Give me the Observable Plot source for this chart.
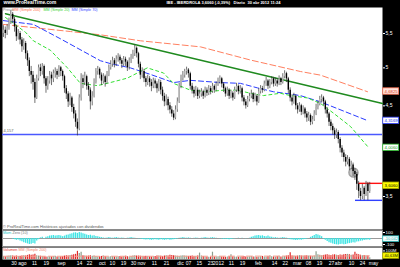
<!DOCTYPE html>
<html><head><meta charset="utf-8">
<script src="https://cdn.jsdelivr.net/npm/d3@7"></script>
<script src="https://cdn.jsdelivr.net/npm/@observablehq/plot@0.6"></script>
<style>
html,body{margin:0;padding:0;background:#000;width:400px;height:267px;overflow:hidden}
#chart svg{display:block}
</style></head><body><div id="chart"></div>
<script>
// ---- data ----
const openP = [
5.50,5.55,5.50,5.58,5.68,5.80,5.72,5.60,5.45,5.50,
5.40,5.30,5.35,5.20,5.10,4.95,4.90,4.80,4.60,4.85,
5.00,4.95,5.02,4.85,4.75,4.82,4.90,4.85,4.92,4.95,
4.90,5.00,4.95,4.88,4.72,4.65,4.55,4.60,4.48,4.40,
4.30,4.22,4.60,4.85,4.80,4.88,4.75,4.70,4.55,4.62,
4.80,4.95,4.98,4.90,4.82,4.88,4.80,4.90,5.00,5.05,
5.10,5.05,5.12,5.15,5.10,5.05,5.12,5.08,5.00,5.10,
5.15,5.20,5.28,5.20,5.05,4.90,4.95,4.85,4.80,4.85,
4.80,4.75,4.82,4.78,4.72,4.80,4.70,4.62,4.55,4.58,
4.50,4.45,4.40,4.35,4.45,4.55,4.75,4.85,4.90,4.95,
4.97,4.92,4.75,4.70,4.65,4.70,4.62,4.65,4.68,4.62,
4.70,4.66,4.72,4.68,4.75,4.70,4.78,4.82,4.85,4.78,
4.72,4.65,4.70,4.62,4.66,4.60,4.70,4.75,4.68,4.72,
4.60,4.55,4.50,4.58,4.62,4.65,4.58,4.62,4.55,4.68,
4.72,4.70,4.78,4.82,4.75,4.80,4.85,4.78,4.82,4.78,
4.85,4.80,4.88,4.92,4.85,4.70,4.60,4.55,4.62,4.50,
4.45,4.50,4.42,4.46,4.40,4.35,4.38,4.30,4.33,4.40,
4.48,4.52,4.58,4.60,4.55,4.45,4.40,4.30,4.25,4.20,
4.15,4.18,4.10,4.00,3.95,3.90,3.85,3.88,3.80,3.82,
3.75,3.72,3.62,3.55,3.50,3.58,3.52,3.62,3.55];
const highP = [
5.62,5.60,5.64,5.74,5.86,5.83,5.75,5.63,5.56,5.53,
5.44,5.42,5.38,5.24,5.14,5.02,4.95,4.85,4.90,5.04,
5.05,5.06,5.04,4.88,4.88,4.95,4.94,4.97,5.00,4.98,
5.03,5.02,4.97,4.90,4.76,4.68,4.66,4.62,4.52,4.44,
4.34,4.64,4.92,4.90,4.94,4.90,4.80,4.73,4.68,4.85,
4.99,5.02,5.00,4.93,4.92,4.90,4.95,5.04,5.10,5.15,
5.13,5.17,5.20,5.18,5.13,5.16,5.15,5.10,5.14,5.19,
5.25,5.33,5.30,5.22,5.08,5.00,4.98,4.88,4.90,4.88,
4.84,4.86,4.85,4.81,4.84,4.83,4.74,4.66,4.64,4.61,
4.54,4.49,4.44,4.50,4.60,4.79,4.90,4.95,4.98,5.01,
4.99,4.94,4.79,4.74,4.75,4.73,4.70,4.72,4.70,4.74,
4.73,4.76,4.75,4.79,4.77,4.81,4.86,4.89,4.87,4.80,
4.74,4.74,4.72,4.70,4.68,4.74,4.79,4.77,4.76,4.74,
4.63,4.58,4.62,4.66,4.70,4.67,4.66,4.64,4.72,4.76,
4.75,4.82,4.87,4.84,4.84,4.88,4.87,4.86,4.85,4.89,
4.87,4.92,4.96,4.94,4.87,4.73,4.64,4.66,4.64,4.53,
4.54,4.52,4.50,4.48,4.43,4.42,4.40,4.37,4.44,4.52,
4.56,4.62,4.64,4.62,4.57,4.48,4.42,4.33,4.28,4.23,
4.22,4.20,4.12,4.03,3.98,3.93,3.92,3.90,3.86,3.84,
3.78,3.74,3.65,3.58,3.62,3.60,3.65,3.64,3.64];
const lowP = [
5.44,5.42,5.47,5.55,5.64,5.66,5.52,5.38,5.40,5.33,
5.22,5.25,5.12,5.02,4.88,4.78,4.70,4.53,4.58,4.82,
4.88,4.90,4.78,4.66,4.70,4.78,4.76,4.80,4.86,4.84,
4.87,4.88,4.82,4.66,4.58,4.48,4.50,4.42,4.34,4.24,
4.14,4.20,4.56,4.72,4.76,4.70,4.62,4.45,4.50,4.60,
4.78,4.90,4.85,4.76,4.78,4.74,4.78,4.88,4.97,5.01,
5.00,5.02,5.08,5.05,4.99,5.02,5.02,4.95,4.97,5.06,
5.12,5.16,5.14,5.00,4.84,4.86,4.80,4.74,4.76,4.74,
4.68,4.72,4.72,4.66,4.68,4.64,4.56,4.49,4.50,4.44,
4.40,4.36,4.32,4.33,4.42,4.53,4.72,4.82,4.86,4.90,
4.86,4.70,4.65,4.60,4.62,4.58,4.59,4.61,4.58,4.60,
4.62,4.63,4.64,4.66,4.66,4.68,4.75,4.78,4.73,4.67,
4.61,4.62,4.58,4.59,4.56,4.58,4.67,4.64,4.65,4.55,
4.50,4.46,4.48,4.55,4.59,4.54,4.55,4.50,4.53,4.65,
4.66,4.68,4.75,4.71,4.72,4.77,4.74,4.75,4.74,4.76,
4.76,4.78,4.85,4.80,4.65,4.55,4.50,4.52,4.45,4.40,
4.42,4.38,4.39,4.35,4.30,4.31,4.26,4.27,4.31,4.38,
4.45,4.50,4.54,4.50,4.40,4.35,4.25,4.20,4.15,4.10,
4.11,4.05,3.95,3.90,3.85,3.80,3.82,3.76,3.77,3.70,
3.66,3.56,3.48,3.46,3.47,3.46,3.50,3.46,3.53];
const closeP = [
5.55,5.50,5.58,5.68,5.80,5.72,5.60,5.45,5.50,5.40,
5.30,5.35,5.20,5.10,4.95,4.90,4.80,4.60,4.85,5.00,
4.95,5.02,4.85,4.75,4.82,4.90,4.85,4.92,4.95,4.90,
5.00,4.95,4.88,4.72,4.65,4.55,4.60,4.48,4.40,4.30,
4.22,4.60,4.85,4.80,4.88,4.75,4.70,4.55,4.62,4.80,
4.95,4.98,4.90,4.82,4.88,4.80,4.90,5.00,5.05,5.10,
5.05,5.12,5.15,5.10,5.05,5.12,5.08,5.00,5.10,5.15,
5.20,5.28,5.20,5.05,4.90,4.95,4.85,4.80,4.85,4.80,
4.75,4.82,4.78,4.72,4.80,4.70,4.62,4.55,4.58,4.50,
4.45,4.40,4.35,4.45,4.55,4.75,4.85,4.90,4.95,4.97,
4.92,4.75,4.70,4.65,4.70,4.62,4.65,4.68,4.62,4.70,
4.66,4.72,4.68,4.75,4.70,4.78,4.82,4.85,4.78,4.72,
4.65,4.70,4.62,4.66,4.60,4.70,4.75,4.68,4.72,4.60,
4.55,4.50,4.58,4.62,4.65,4.58,4.62,4.55,4.68,4.72,
4.70,4.78,4.82,4.75,4.80,4.85,4.78,4.82,4.78,4.85,
4.80,4.88,4.92,4.85,4.70,4.60,4.55,4.62,4.50,4.45,
4.50,4.42,4.46,4.40,4.35,4.38,4.30,4.33,4.40,4.48,
4.52,4.58,4.60,4.55,4.45,4.40,4.30,4.25,4.20,4.15,
4.18,4.10,4.00,3.95,3.90,3.85,3.88,3.80,3.82,3.75,
3.72,3.62,3.55,3.50,3.58,3.52,3.62,3.55,3.606];
const volumeM = [
35,32,38,40,45,42,36,40,35,38,42,45,40,48,55,50,52,60,45,40,38,
35,32,30,28,33,30,35,38,30,28,32,35,40,45,42,48,50,55,60,
95,70,85,45,40,38,
40,45,38,42,35,30,32,36,40,34,30,28,32,35,30,28,33,36,30,34,38,32,30,35,40,
45,42,40,38,36,34,38,35,32,30,33,36,40,42,38,35,40,45,42,50,48,45,40,38,35,42,45,40,38,36,
38,40,35,36,42,75,40,36,30,28,
25,30,85,30,28,32,35,30,28,25,30,35,55,32,30,28,25,30,32,35,
30,28,32,35,30,28,25,30,33,36,30,28,35,40,32,30,28,35,38,30,32,36,40,45,80,42,38,35,40,45,
40,38,42,45,40,38,36,40,90,55,50,45,48,52,55,50,48,52,55,50,48,52,50,55,58,60,55,50,52,85,60,55,50,45,48,42,40,20];
const momentum = [
0,0,0,0,0, -10,-20,-30,-25,-40,
-55,-70,-80,-90,-100,-95,-85,-90,
-40,-20,10,20,-10,
20,30,40,45,50,40,45,50,40,30,
40,55,60,70,80,90,95,85,
100,90,80,70,60,50,55,40,
45,35,30,20,15,
10,5,10,15,10,5,10,15,10,5,10,5,0,5,10,15,10,5,0,-5,-10,-15,
-20,-25,-20,-25,-30,-25,-20,-25,-30,-20,-25,-30,-25,-20,-30,-25,-20,-15,-10,
5,10,15,10,5,10,5,0,5,10,5,0,
5,10,15,10,5,10,15,10,5,0,
-5,-10,-15,-10,-15,-20,-15,-10,-5,0,
5,0,5,0,-5,0,5,
20,30,40,45,50,40,45,35,30,40,25,20,
10,15,10,5,10,15,10,5,
-10,-20,-25,-30,-35,-30,-25,-30,-20,-15,-10,
0,20,35,50,
65,60,45,30,
-10,-30,-50,
-70,-80,-90,-100,-105,-110,-100,-95,-105,-100,-90,
-85,-80,-70,-75,-60,-55,
-45,-40,-35,-30,-25,-30];

// moving averages (sparse points)
const ma200Idx = [0, 36.2, 52.4, 74, 106.5, 133.5, 160.5, 171.4, 196.8];
const ma200Val = [5.64, 5.53, 5.48, 5.39, 5.30, 5.11, 4.95, 4.90, 4.68];
const ma70Idx = [0, 16.2, 30.8, 52.4, 57.8, 68.6, 79.5, 91.9, 101.1, 117.3, 128.1, 137.3, 145.9, 155.1, 160.5, 171.4, 196.8];
const ma70Val = [5.70, 5.64, 5.42, 5.10, 5.06, 5.00, 4.91, 4.80, 4.83, 4.80, 4.79, 4.73, 4.68, 4.65, 4.63, 4.55, 4.32];
const ma20Idx = [1.1, 11.9, 16.2, 25.4, 34.6, 41.6, 50.8, 56.2, 67.0, 77.8, 86.5, 91.9, 101.1, 110.3, 118.9, 126.5, 133.5, 140.5, 149.7, 155.1, 164.3, 171.4, 178.4, 187.6, 197.3];
const ma20Val = [5.75, 5.52, 5.39, 5.25, 5.00, 4.79, 4.76, 4.79, 4.86, 5.00, 4.93, 4.79, 4.70, 4.68, 4.70, 4.70, 4.66, 4.63, 4.66, 4.63, 4.60, 4.53, 4.41, 4.25, 4.01];
const volMaIdx = [0, 100, 198];
const volMaVal = [38, 38, 42];

// drawn lines
const trendIdx = [1.1, 204.9];
const trendVal = [5.81, 4.53];
const supportLevel = 4.157;
const shortLineStart = [191.9, 190.3];
const shortLineEnd = [204.9, 204.9];
const shortLineVal = [3.63, 3.463];
const shortLineColor = ["#ff1010", "#3040ff"];
const markerIdx = 189.2, markerVal = 3.74;

// axis ticks & labels
const priceTicks = [3.5, 4.5, 5, 5.5];
const momTicks = [100, -100];
const volTicks = [100];
const tickIdx = [5.7, 10.3, 16.8, 23.2, 31.4, 41.1, 46.5, 53.5, 58.9, 64.9, 70.3, 74.6, 81.6, 88.1, 95.7, 100.0, 105.9, 111.9, 116.2, 123.2, 129.2, 137.8, 146.5, 152.4, 158.9, 164.9, 170.8, 177.3, 181.1, 188.1, 194.1, 200.0];
const tickLabels = ["30","ago","11","19","sep","14","22","oct","10","19","30","nov","11","21","dic","07","15","23","2012","11","19","feb","14","22","mar","08","19","27","abr","10","24","may"];

// value boxes in the right column
const priceBoxes = [
  {v: 4.6825, label: "4,6825", fill: "#ffe4dc", stroke: "#ff7050", tc: "#e04020"},
  {v: 4.3169, label: "4,3169", fill: "#ffffff", stroke: "#3040ff", tc: "#2030ee"},
  {v: 4.0060, label: "4,0060", fill: "#ffffff", stroke: "#30c030", tc: "#20a020"},
  {v: 3.6060, label: "3,6060", fill: "#ffff00", stroke: "#b0b000", tc: "#000000"}
];
const momBox = {v: -10.042, label: "-10,042"};
const volBox = {v: 40.63, label: "40,63M"};

// ---- build ----
const FONT = "Liberation Sans, Arial, sans-serif";
const xDom = [-0.5, 204.9];
const common = {width: 400, marginLeft: 2, marginRight: 18,
  style: {background: "#000", color: "#fff", fontFamily: FONT}};
const candles = closeP.map((c, i) => ({i, o: openP[i], h: highP[i], l: lowP[i], c, v: volumeM[i], m: momentum[i]}));
const pts = (xs, ys) => xs.map((x, k) => ({x, y: ys[k]}));
const shortLines = shortLineStart.map((s, k) => ({x1: s, x2: shortLineEnd[k], y: shortLineVal[k], color: shortLineColor[k]}));
const BX1 = 205.3, BX2 = 213.9, BXC = 209.6;
const pxLog = 3.2 / 360.6;

const hdr = (t, dx, opts = {}) => Plot.text([t], {text: d => d, frameAnchor: "top-left", dx, dy: -6.5, fill: "#fff", fontSize: 4, fontWeight: "bold", ...opts});
const lbl = (t, dx, dy, fill, fontSize = 3.7) => Plot.text([t], {text: d => d, frameAnchor: "top-left", dx, dy, fill, fontSize});

const price = Plot.plot({
  ...common, height: 229, marginTop: 7, marginBottom: 0,
  x: {domain: xDom, axis: null},
  y: {type: "log", domain: [3.194, 5.911]},
  marks: [
    Plot.frame({fill: "white", stroke: null}),
    Plot.axisY({anchor: "right", ticks: priceTicks, tickFormat: d => String(d).replace(".", ","), tickSize: 2, tickPadding: 1, fontSize: 5, fill: "#fff", stroke: "#fff"}),
    Plot.ruleY([supportLevel], {stroke: "#4a58ff", strokeWidth: 1.5}),
    Plot.text([supportLevel], {y: d => d, text: d => String(d).replace(".", ","), frameAnchor: "left", dx: 1, dy: -3.5, textAnchor: "start", fill: "#666", fontSize: 4}),
    Plot.line(pts(ma200Idx, ma200Val), {x: "x", y: "y", stroke: "#ff8060", strokeWidth: 1, strokeDasharray: "6,3"}),
    Plot.line(pts(ma70Idx, ma70Val), {x: "x", y: "y", stroke: "#2a3cff", strokeWidth: 1, strokeDasharray: "5,3"}),
    Plot.line(pts(ma20Idx, ma20Val), {x: "x", y: "y", stroke: "#33e033", strokeWidth: 1, strokeDasharray: "3,3"}),
    Plot.line(pts(trendIdx, trendVal), {x: "x", y: "y", stroke: "#1f8a1f", strokeWidth: 1.4}),
    Plot.ruleY(shortLines, {x1: "x1", x2: "x2", y: "y", stroke: "color", strokeWidth: 1.4}),
    Plot.dot([{x: markerIdx, y: markerVal}], {x: "x", y: "y", r: 4.5, fill: "#bdbdbd", fillOpacity: 0.85, stroke: "#a0a0a0"}),
    Plot.ruleX(candles, {x: "i", y1: "l", y2: "h", stroke: "#333", strokeWidth: 0.7}),
    Plot.ruleX(candles.filter(d => d.c >= d.o), {x: "i", y1: "o", y2: "c", stroke: "#b4b4b4", strokeWidth: 1.4}),
    Plot.ruleX(candles.filter(d => d.c < d.o), {x: "i", y1: "o", y2: "c", stroke: "#000", strokeWidth: 1.4}),
    Plot.rect(priceBoxes, {x1: BX1, x2: BX2, y1: d => d.v * Math.exp(-pxLog), y2: d => d.v * Math.exp(pxLog), fill: "fill", stroke: "stroke", strokeWidth: 0.8}),
    Plot.text(priceBoxes, {x: BXC, y: "v", text: "label", fill: "tc", fontSize: 4.3}),
    // header
    hdr("www.ProRealTime.com", 1, {fontSize: 4.8}),
    hdr("IBE - IBERDROLA", 164),
    hdr("3,6060 (-0,39%)", 199),
    hdr("Diario", 231),
    hdr("30 abr 2012 11:24", 245),
    // legend
    lbl("Precio", 0.5, 1, "#888"),
    lbl("MM (Simple 200)", 10, 1, "#ff7050"),
    lbl("MM (Simple 20)", 41, 1, "#33d033"),
    lbl("MM (Simple 70)", 69, 1, "#3040ff"),
    Plot.text(["© ProRealTime.com Históricos ajustados con dividendos"], {text: d => d, frameAnchor: "bottom-left", dx: 0.5, dy: -2, fill: "#555", fontSize: 4})
  ]
});

const mom = Plot.plot({
  ...common, height: 18, marginTop: 0, marginBottom: 0,
  x: {domain: xDom, axis: null},
  y: {domain: [-150, 150]},
  marks: [
    Plot.frame({fill: "white", stroke: null}),
    Plot.axisY({anchor: "right", ticks: momTicks, tickFormat: d => String(d), tickSize: 2, tickPadding: 1, fontSize: 4.4, fill: "#fff", stroke: "#fff"}),
    Plot.ruleY([0], {stroke: "#9a9a9a", strokeWidth: 1}),
    Plot.ruleX(candles, {x: "i", y1: 0, y2: "m", stroke: "#3de4e4", strokeWidth: 1.3}),
    Plot.ruleY([150, -150], {stroke: "#8a8a8a", strokeWidth: 3}),
    lbl("Mom.", 0.5, 1.5, "#20c8c8"),
    lbl("Zero (10)", 10, 1.5, "#777"),
    Plot.rect([momBox], {x1: BX1, x2: BX2, y1: d => d.v - 45, y2: d => d.v + 45, fill: "#fff", stroke: "#30d0d0", strokeWidth: 0.8}),
    Plot.text([momBox], {x: BXC, y: "v", text: "label", fill: "#20b0b0", fontSize: 4})
  ]
});

const vol = Plot.plot({
  ...common, height: 20, marginTop: 0, marginBottom: 8,
  x: {domain: xDom},
  y: {domain: [0, 140]},
  marks: [
    Plot.frame({fill: "white", stroke: null}),
    Plot.axisY({anchor: "right", ticks: volTicks, tickFormat: d => d + "M", tickSize: 2, tickPadding: 1, fontSize: 4.4, fill: "#fff", stroke: "#fff"}),
    Plot.ruleX(candles.filter(d => d.c >= d.o), {x: "i", y1: 0, y2: "v", stroke: "#8c9e8c", strokeWidth: 1.2}),
    Plot.ruleX(candles.filter(d => d.c < d.o), {x: "i", y1: 0, y2: "v", stroke: "#e02828", strokeWidth: 1.2}),
    Plot.line(pts(volMaIdx, volMaVal), {x: "x", y: "y", stroke: "#f4a090", strokeWidth: 1, strokeDasharray: "6,3"}),
    lbl("Volumen", 0.5, 1.2, "#e03030"),
    lbl("MM (Simple 200)", 16, 1.2, "#f08070"),
    Plot.rect([volBox], {x1: BX1, x2: BX2, y1: d => d.v - 32, y2: d => d.v + 32, fill: "#ffff00", stroke: "#b0b000", strokeWidth: 0.8}),
    Plot.text([volBox], {x: BXC, y: "v", text: "label", fill: "#000", fontSize: 4}),
    Plot.axisX({anchor: "bottom", ticks: tickIdx, tickFormat: d => tickLabels[tickIdx.indexOf(d)], tickSize: 0, tickPadding: 1.5, fontSize: 5, fill: "#fff"})
  ]
});

const root = document.getElementById("chart");
root.append(price, mom, vol);
</script>
</body></html>
